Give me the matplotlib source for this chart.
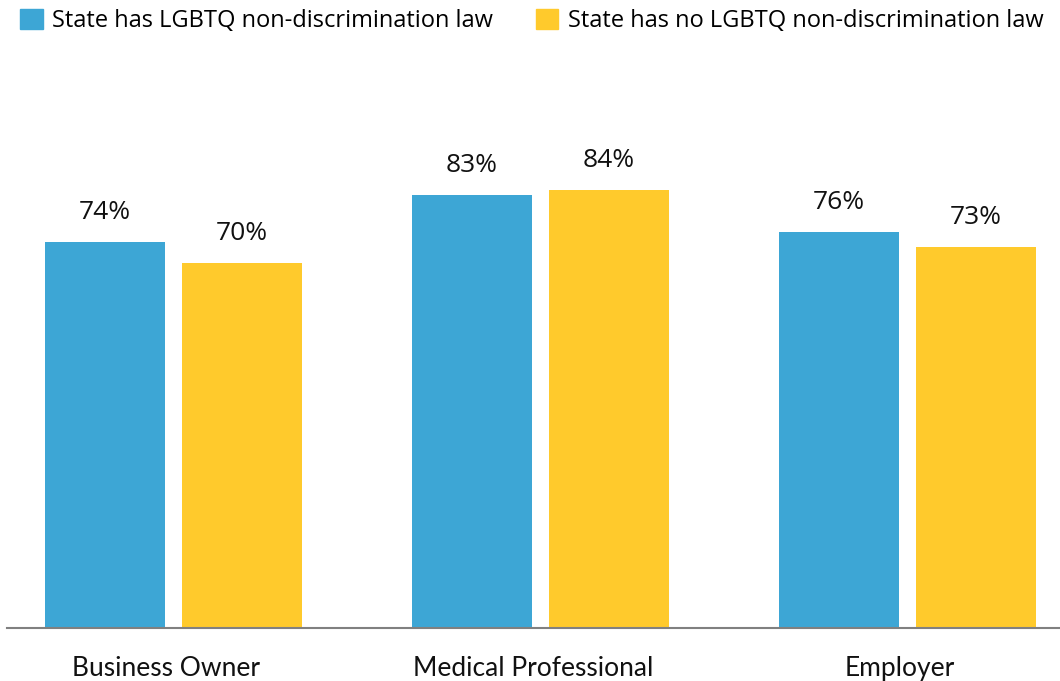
import numpy as np
import matplotlib.pyplot as plt
from matplotlib.patches import Patch

categories = ["Business Owner", "Medical Professional", "Employer"]
with_law = [74, 83, 76]
without_law = [70, 84, 73]
series_names = ["State has LGBTQ non-discrimination law",
                "State has no LGBTQ non-discrimination law"]

blue = "#3DA6D5"
yellow = "#FFCA2C"

W, H = 1060, 681
fig = plt.figure(figsize=(W / 100, H / 100), dpi=100)

# axes placed in pixel terms: baseline at y=628, 100% at y~106
ax = fig.add_axes([7 / W, (H - 628) / H, (W - 7) / W, 521.7 / H])

x = np.arange(len(categories))
step = 367.0
bw = 120 / step
off = 68.5 / step

b1 = ax.bar(x - off, with_law, bw, color=blue, zorder=2)
b2 = ax.bar(x + off, without_law, bw, color=yellow, zorder=2)

for bars in (b1, b2):
    for rect in bars:
        v = rect.get_height()
        ax.annotate("%d%%" % v, (rect.get_x() + rect.get_width() / 2, v),
                    xytext=(0, 12), textcoords="offset points",
                    ha="center", va="bottom", fontsize=19,
                    family="Open Sans", color="#111111")

ax.set_xlim((7 - 173.5) / step, (W - 173.5) / step)
ax.set_ylim(0, 100)

for s in ["top", "right", "left"]:
    ax.spines[s].set_visible(False)
ax.spines["bottom"].set_color("#808080")
ax.spines["bottom"].set_linewidth(1.5)
ax.set_yticks([])
ax.set_xticks(x - 0.02)
ax.set_xticklabels(categories, fontsize=19, family="Lato", color="#111111")
ax.tick_params(axis="x", length=0, pad=20)

handles = [Patch(color=blue), Patch(color=yellow)]
fig.legend(handles, series_names, loc="upper left", bbox_to_anchor=(13 / W, 1 - 2 / H),
           ncol=2, frameon=False, prop={"family": "Open Sans", "size": 17},
           handlelength=0.95, handleheight=0.95, handletextpad=0.42,
           columnspacing=1.8, borderaxespad=0, borderpad=0.3)

fig.savefig("out.png", dpi=100)
